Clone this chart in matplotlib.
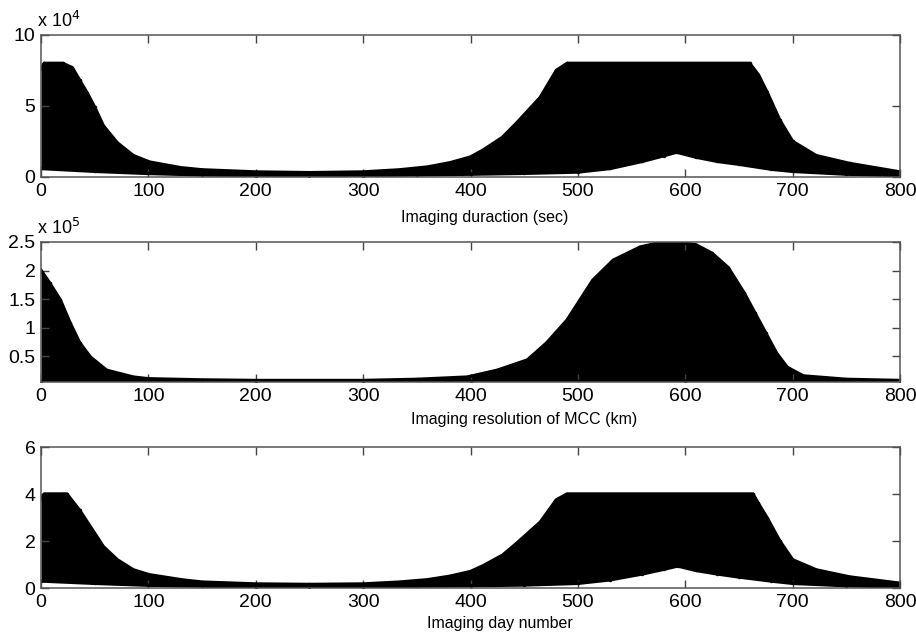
import matplotlib.pyplot as plt
import numpy as np

plt.rcParams['font.family'] = ['Liberation Sans', 'DejaVu Sans']

# ---- panel 1 : imaging duration (x 10^4) ----
durX_up = [0, 3, 20, 29, 36, 43, 50, 58, 71, 86, 101, 130, 150, 200, 250, 300, 334, 360, 381,
           400, 412, 430, 443, 465, 480, 490, 660, 668, 676, 688, 700, 722, 753, 800]
durY_up = [7.6, 8.0, 8.0, 7.7, 6.8, 5.9, 4.9, 3.6, 2.4, 1.5, 1.05, 0.65, 0.5, 0.35, 0.3, 0.35, 0.5, 0.7, 1.0,
           1.4, 1.9, 2.8, 3.8, 5.6, 7.5, 8.0, 8.0, 7.2, 6.0, 4.0, 2.5, 1.5, 0.95, 0.35]
durX_lo = [0, 50, 100, 150, 200, 250, 300, 350, 400, 450, 500, 530, 560, 580, 592, 610, 630, 650, 680, 700, 750, 800]
durY_lo = [0.6, 0.4, 0.25, 0.15, 0.1, 0.08, 0.1, 0.15, 0.2, 0.26, 0.35, 0.6, 1.1, 1.5, 1.75, 1.4, 1.1, 0.9, 0.55, 0.4, 0.2, 0.1]

# ---- panel 2 : imaging resolution of MCC (x 10^5) ----
resX_up = [0, 8, 18, 27, 36, 46, 61, 86, 100, 150, 200, 300, 350, 397, 425, 453, 471, 490, 502, 514,
           533, 558, 579, 592, 610, 625, 640, 655, 665, 675, 685, 695, 710, 750, 800]
resY_up = [2.0, 1.78, 1.48, 1.08, 0.73, 0.48, 0.25, 0.13, 0.1, 0.08, 0.07, 0.07, 0.09, 0.13, 0.25, 0.43, 0.73, 1.13, 1.48, 1.83,
           2.18, 2.41, 2.5, 2.5, 2.45, 2.3, 2.05, 1.6, 1.25, 0.9, 0.55, 0.3, 0.15, 0.09, 0.07]
resX_lo = [0, 200, 400, 600, 800]
resY_lo = [0.06, 0.06, 0.06, 0.06, 0.06]

# ---- panel 3 : imaging day number ----
dayX_up = [0, 3, 20, 24, 36, 46, 58, 71, 86, 101, 132, 150, 200, 250, 300, 334, 360, 381, 400, 412,
           430, 443, 465, 480, 490, 663, 668, 676, 688, 700, 722, 753, 800]
dayY_up = [3.8, 4.0, 4.0, 4.0, 3.3, 2.6, 1.76, 1.2, 0.77, 0.56, 0.34, 0.25, 0.17, 0.15, 0.17, 0.25, 0.35, 0.5, 0.7, 0.95,
           1.4, 1.9, 2.8, 3.75, 4.0, 4.0, 3.6, 3.0, 2.0, 1.2, 0.77, 0.47, 0.2]
dayX_lo = [0, 50, 100, 150, 200, 250, 300, 350, 400, 450, 500, 530, 560, 580, 593, 610, 630, 650, 680, 700, 750, 800]
dayY_lo = [0.3, 0.2, 0.12, 0.08, 0.05, 0.04, 0.05, 0.08, 0.1, 0.13, 0.2, 0.35, 0.6, 0.8, 0.94, 0.75, 0.6, 0.47, 0.3, 0.2, 0.1, 0.05]

xTicks = [0, 100, 200, 300, 400, 500, 600, 700, 800]


def band(ax, xu, yu, xl, yl):
    # fill the dense region between lower and upper envelope
    xs = np.union1d(xu, xl)
    up = np.interp(xs, xu, yu)
    lo = np.interp(xs, xl, yl)
    ax.fill_between(xs, lo, up, color='black', lw=0)
    ax.plot(xu, yu, color='black', lw=2.5, marker='.', ms=3)
    ax.plot(xl, yl, color='black', lw=2.5, marker='.', ms=3)


def style(ax, xlabel, labelX, labelY):
    ax.set_xlim(0, 800)
    ax.set_xticks(xTicks)
    ax.tick_params(direction='in', top=True, right=True, length=6, width=1,
                   color='#444444', labelsize=14, pad=4)
    for s in ax.spines.values():
        s.set_color('#555555')
        s.set_linewidth(1.1)
    ax.set_xlabel(xlabel, fontsize=11.5)
    ax.xaxis.set_label_coords(labelX, labelY)


fig = plt.figure(figsize=(9.16, 6.35), dpi=100)

ax1 = fig.add_axes([0.0448, 0.7213, 0.9377, 0.2236])
band(ax1, durX_up, durY_up, durX_lo, durY_lo)
ax1.set_ylim(0, 10)
ax1.set_yticks([0, 5, 10])
style(ax1, 'Imaging duraction (sec)', 0.517, -0.235)
ax1.text(-0.005, 1.03, r'x 10$^4$', transform=ax1.transAxes, fontsize=13, ha='left', va='bottom')

ax2 = fig.add_axes([0.0448, 0.3984, 0.9377, 0.2205])
band(ax2, resX_up, resY_up, resX_lo, resY_lo)
ax2.set_ylim(0.044, 2.5)
ax2.set_yticks([0.5, 1, 1.5, 2, 2.5])
ax2.set_yticklabels(['0.5', '1', '1.5', '2', '2.5'])
style(ax2, 'Imaging resolution of MCC (km)', 0.562, -0.215)
ax2.text(-0.005, 1.03, r'x 10$^5$', transform=ax2.transAxes, fontsize=13, ha='left', va='bottom')

ax3 = fig.add_axes([0.0448, 0.0740, 0.9377, 0.2220])
band(ax3, dayX_up, dayY_up, dayX_lo, dayY_lo)
ax3.set_ylim(0, 6)
ax3.set_yticks([0, 2, 4, 6])
style(ax3, 'Imaging day number', 0.534, -0.2)

fig.savefig('out.png', dpi=100)
